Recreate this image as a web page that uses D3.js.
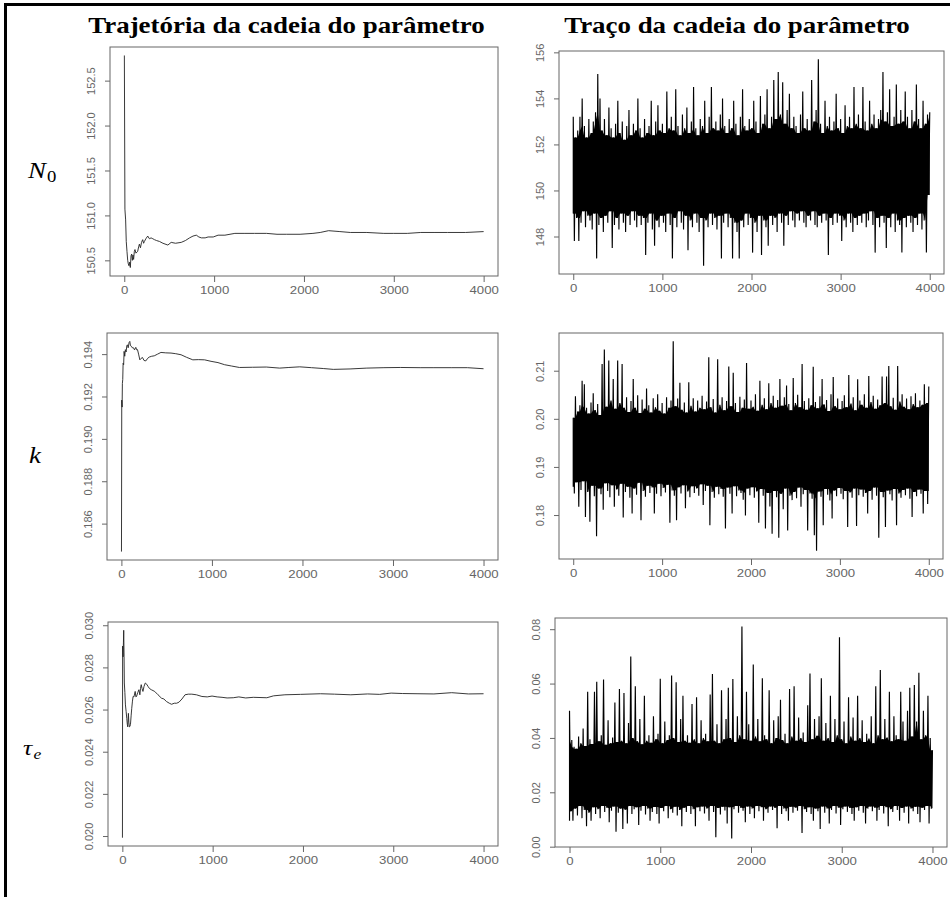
<!DOCTYPE html>
<html>
<head>
<meta charset="utf-8">
<script src="https://cdn.jsdelivr.net/npm/d3@7"></script>
<style>
html, body { margin: 0; padding: 0; background: #fff; }
svg { display: block; }
</style>
</head>
<body>
<svg id="chart" width="950" height="897"></svg>
<script>
// ── Data ──────────────────────────────────────────────────
const xTicks = [0, 1000, 2000, 3000, 4000];
const n0MeanTicks = [150.5, 151.0, 151.5, 152.0, 152.5];
const n0TraceTicks = [148, 150, 152, 154, 156];
const kMeanTicks = [0.186, 0.188, 0.190, 0.192, 0.194];
const kTraceTicks = [0.18, 0.19, 0.20, 0.21];
const tauMeanTicks = [0.020, 0.022, 0.024, 0.026, 0.028, 0.030];
const tauTraceTicks = [0.00, 0.02, 0.04, 0.06, 0.08];

// running mean ("trajetória"): [iteration, value]
const n0Mean = [
    [1,152.78],[7,151.07],[15,150.95],[22,150.71],[30,150.60],[38,150.50],[45,150.46],[52,150.44],
    [60,150.48],[67,150.42],[75,150.55],[82,150.57],[90,150.50],[97,150.56],[104,150.51],[112,150.60],
    [119,150.62],[130,150.58],[149,150.60],[160,150.65],[168,150.68],[180,150.64],[192,150.70],[205,150.73],
    [215,150.69],[224,150.71],[240,150.74],[261,150.77],[280,150.74],[298,150.75],[318,150.74],[336,150.73],
    [360,150.72],[392,150.71],[430,150.69],[485,150.67],[522,150.70],[570,150.69],[634,150.70],[680,150.72],
    [727,150.75],[765,150.77],[802,150.78],[830,150.76],[858,150.75],[900,150.75],[933,150.76],[990,150.76],
    [1044,150.78],[1120,150.78],[1231,150.80],[1343,150.80],[1450,150.80],[1584,150.80],[1700,150.79],
    [1808,150.79],[1957,150.79],[2100,150.80],[2181,150.81],[2274,150.83],[2400,150.82],[2516,150.81],
    [2700,150.81],[2889,150.80],[3000,150.80],[3150,150.80],[3300,150.81],[3448,150.81],[3600,150.81],
    [3800,150.81],[4000,150.82]
];
const kMean = [
    [1,0.18468],[4,0.19183],[8,0.19150],[11,0.19262],[15,0.19280],[19,0.19357],[25,0.19350],[30,0.19413],
    [37,0.19390],[44,0.19421],[52,0.19410],[60,0.19440],[67,0.19444],[75,0.19430],[85,0.19455],[93,0.19460],
    [100,0.19440],[111,0.19437],[120,0.19430],[133,0.19430],[145,0.19420],[159,0.19432],[170,0.19420],
    [178,0.19421],[190,0.19400],[204,0.19373],[218,0.19380],[233,0.19384],[250,0.19370],[270,0.19368],
    [290,0.19380],[307,0.19386],[335,0.19390],[363,0.19392],[400,0.19400],[437,0.19408],[490,0.19406],
    [548,0.19405],[600,0.19402],[659,0.19397],[720,0.19385],[789,0.19373],[850,0.19374],[919,0.19373],
    [990,0.19366],[1067,0.19360],[1140,0.19350],[1215,0.19344],[1304,0.19337],[1450,0.19338],[1600,0.19339],
    [1748,0.19334],[1850,0.19337],[1970,0.19340],[2100,0.19336],[2230,0.19332],[2341,0.19328],[2526,0.19330],
    [2711,0.19334],[2900,0.19336],[3081,0.19337],[3300,0.19336],[3452,0.19336],[3650,0.19336],[3822,0.19336],
    [4000,0.19331]
];
const tauMean = [
    [1,0.01992],[3,0.02901],[8,0.02850],[12,0.02920],[15,0.02976],[19,0.02850],[22,0.02726],[28,0.02680],
    [34,0.02622],[42,0.02590],[49,0.02558],[55,0.02530],[60,0.02518],[67,0.02582],[72,0.02540],[78,0.02518],
    [84,0.02520],[90,0.02530],[97,0.02570],[104,0.02606],[112,0.02640],[119,0.02662],[128,0.02660],
    [142,0.02686],[150,0.02660],[157,0.02662],[170,0.02680],[183,0.02694],[194,0.02670],[201,0.02700],
    [209,0.02718],[218,0.02700],[228,0.02686],[240,0.02710],[254,0.02726],[270,0.02720],[284,0.02710],
    [300,0.02700],[321,0.02694],[340,0.02690],[358,0.02686],[395,0.02670],[433,0.02654],[460,0.02650],
    [489,0.02638],[520,0.02630],[545,0.02625],[575,0.02630],[601,0.02630],[627,0.02635],[660,0.02650],
    [694,0.02670],[730,0.02673],[769,0.02673],[820,0.02670],[881,0.02662],[940,0.02660],[993,0.02664],
    [1050,0.02660],[1104,0.02658],[1160,0.02655],[1228,0.02656],[1290,0.02660],[1366,0.02655],[1450,0.02658],
    [1600,0.02656],[1674,0.02665],[1800,0.02670],[1972,0.02672],[2195,0.02675],[2350,0.02673],[2530,0.02670],
    [2716,0.02674],[2850,0.02672],[2977,0.02678],[3100,0.02676],[3274,0.02675],[3450,0.02674],[3647,0.02680],
    [3833,0.02674],[4000,0.02675]
];

// trace ("traço"): upper and lower spike of the chain, one pair per 25 iterations
const TRACE_STEP = 25;
const n0TraceHi = [
    153.2,152.3,152.6,153.2,154.0,152.8,152.3,153.1,152.5,153.0,
    153.4,155.06,154.0,152.6,153.1,152.4,153.6,152.7,152.3,152.9,
    153.9,152.5,153.0,152.2,152.8,153.5,152.4,152.9,152.6,154.0,
    152.7,152.3,153.1,152.5,152.8,153.9,152.4,153.0,153.7,152.6,
    152.9,152.5,154.3,152.7,153.2,152.6,154.4,152.8,152.4,153.3,
    152.7,153.6,152.5,153.0,154.5,152.7,152.4,153.1,152.8,153.9,
    152.5,153.2,154.5,152.7,153.0,152.6,153.3,154.0,152.8,152.5,
    153.1,152.7,153.9,152.9,152.4,153.2,154.4,152.8,152.6,153.1,
    152.7,153.9,153.0,152.5,154.1,152.9,153.3,154.4,152.7,153.2,
    154.8,153.1,155.15,153.3,154.7,152.9,153.5,154.2,152.7,153.2,
    152.8,152.5,153.3,154.3,152.7,153.1,152.6,154.8,153.0,153.5,
    155.7,152.9,152.5,153.9,152.8,153.2,152.6,153.0,154.2,152.7,
    153.1,152.5,153.7,152.8,153.2,152.7,154.5,152.9,153.3,152.7,
    154.5,153.0,152.6,153.9,152.9,153.3,152.7,153.1,153.5,155.15,
    153.0,153.4,154.4,152.8,153.2,154.6,152.9,153.5,153.0,154.3,
    153.2,152.7,153.5,153.0,154.6,153.1,152.7,153.9,152.9,153.3,
    153.4
];
const n0TraceLo = [
    149.0,147.8,148.8,147.8,148.6,149.1,148.4,148.9,148.7,148.3,
    149.0,147.05,148.5,148.8,148.2,148.9,148.6,149.1,147.5,148.5,
    148.8,148.3,149.0,148.6,148.2,148.9,148.5,149.1,148.7,148.4,
    148.9,148.5,148.8,147.2,148.6,149.0,148.3,147.6,148.7,148.4,
    148.9,148.6,148.2,149.0,148.5,147.05,148.8,148.4,149.1,148.6,
    148.3,148.9,147.4,148.7,148.4,149.0,148.6,148.2,148.8,146.73,
    148.7,148.4,149.0,148.5,148.8,148.3,148.9,147.05,148.6,149.0,
    148.4,148.8,147.05,148.6,148.2,147.05,148.7,148.4,149.0,148.5,
    148.8,147.3,148.6,148.2,148.9,147.2,148.7,148.4,147.6,148.9,
    148.5,148.8,148.2,149.0,148.6,147.6,148.9,148.5,149.1,148.7,
    148.4,149.0,148.7,149.1,148.6,148.4,148.9,148.7,149.1,148.5,
    148.4,148.9,148.6,149.0,148.7,147.2,148.8,148.5,149.0,148.6,
    148.9,147.8,148.7,148.4,149.0,148.6,148.2,148.8,148.5,148.9,
    148.6,149.0,148.4,148.7,149.1,148.5,147.3,148.8,148.4,148.9,
    148.6,147.5,148.8,148.4,149.0,148.2,148.7,148.5,147.3,148.8,
    148.4,148.9,148.6,148.2,148.8,148.5,149.0,148.3,148.7,147.3,
    149.8
];
const kTraceHi = [
    0.2002,0.2047,0.2015,0.2028,0.2079,0.2072,0.2023,0.2011,0.2034,0.2053,
    0.2018,0.2031,0.2008,0.2114,0.2144,0.2025,0.2121,0.2038,0.2083,0.2021,
    0.2121,0.2033,0.2114,0.2023,0.2045,0.2014,0.2037,0.2083,0.2023,0.2049,
    0.2012,0.2040,0.2021,0.2063,0.2028,0.2013,0.2043,0.2024,0.2051,0.2017,
    0.2033,0.2011,0.2045,0.2023,0.2038,0.2161,0.2026,0.2042,0.2075,0.2019,
    0.2034,0.2013,0.2076,0.2027,0.2043,0.2015,0.2038,0.2023,0.2048,0.2020,
    0.2036,0.2128,0.2024,0.2041,0.2013,0.2124,0.2029,0.2045,0.2018,0.2037,
    0.2109,0.2026,0.2096,0.2033,0.2014,0.2046,0.2023,0.2040,0.2116,0.2021,
    0.2038,0.2025,0.2051,0.2017,0.2079,0.2029,0.2043,0.2020,0.2074,0.2033,
    0.2048,0.2023,0.2039,0.2083,0.2027,0.2045,0.2069,0.2031,0.2018,0.2085,
    0.2033,0.2050,0.2024,0.2114,0.2037,0.2019,0.2043,0.2028,0.2108,0.2035,
    0.2022,0.2047,0.2083,0.2030,0.2039,0.2016,0.2051,0.2087,0.2026,0.2042,
    0.2020,0.2037,0.2049,0.2024,0.2091,0.2032,0.2045,0.2018,0.2082,0.2038,
    0.2029,0.2051,0.2023,0.2089,0.2035,0.2048,0.2021,0.2040,0.2028,0.2088,
    0.2033,0.2088,0.2110,0.2026,0.2044,0.2019,0.2110,0.2036,0.2051,0.2025,
    0.2042,0.2020,0.2047,0.2031,0.2053,0.2024,0.2038,0.2029,0.2072,0.2033,
    0.2067
];
const kTraceLo = [
    0.1859,0.1845,0.1868,0.1817,0.1852,0.1870,0.1796,0.1848,0.1786,0.1861,
    0.1839,0.1756,0.1855,0.1843,0.1811,0.1866,0.1850,0.1837,0.1862,0.1817,
    0.1853,0.1840,0.1865,0.1795,0.1848,0.1859,0.1836,0.1803,0.1855,0.1842,
    0.1867,0.1789,0.1850,0.1838,0.1861,0.1846,0.1857,0.1803,0.1844,0.1865,
    0.1839,0.1856,0.1847,0.1863,0.1784,0.1851,0.1840,0.1789,0.1858,0.1845,
    0.1862,0.1814,0.1849,0.1837,0.1860,0.1846,0.1855,0.1840,0.1864,0.1821,
    0.1850,0.1861,0.1779,0.1848,0.1836,0.1859,0.1843,0.1854,0.1838,0.1772,
    0.1857,0.1844,0.1803,0.1860,0.1839,0.1851,0.1846,0.1832,0.1799,0.1855,
    0.1841,0.1858,0.1836,0.1849,0.1784,0.1854,0.1840,0.1772,0.1846,0.1818,
    0.1761,0.1850,0.1837,0.1753,0.1844,0.1812,0.1855,0.1768,0.1840,0.1831,
    0.1848,0.1835,0.1857,0.1817,0.1843,0.1852,0.1768,0.1845,0.1834,0.1758,
    0.1726,0.1849,0.1838,0.1779,0.1854,0.1842,0.1830,0.1793,0.1851,0.1839,
    0.1856,0.1844,0.1833,0.1850,0.1775,0.1847,0.1836,0.1855,0.1777,0.1841,
    0.1853,0.1838,0.1846,0.1803,0.1850,0.1832,0.1857,0.1840,0.1753,0.1848,
    0.1837,0.1775,0.1851,0.1843,0.1830,0.1854,0.1779,0.1845,0.1836,0.1852,
    0.1841,0.1855,0.1834,0.1796,0.1848,0.1839,0.1853,0.1844,0.1803,0.1850,
    0.1823
];
const tauTraceHi = [
    0.0500,0.0392,0.0368,0.0360,0.0405,0.0380,0.0435,0.0370,0.0570,0.0395,
    0.0378,0.0570,0.0607,0.0388,0.0410,0.0615,0.0375,0.0465,0.0380,0.0402,
    0.0530,0.0385,0.0580,0.0390,0.0565,0.0380,0.0455,0.0700,0.0400,0.0590,
    0.0388,0.0470,0.0377,0.0555,0.0390,0.0410,0.0382,0.0480,0.0395,0.0415,
    0.0618,0.0380,0.0460,0.0392,0.0410,0.0630,0.0400,0.0605,0.0385,0.0470,
    0.0555,0.0390,0.0410,0.0382,0.0525,0.0395,0.0550,0.0380,0.0465,0.0400,
    0.0415,0.0388,0.0560,0.0635,0.0390,0.0450,0.0380,0.0575,0.0395,0.0470,
    0.0585,0.0400,0.0617,0.0385,0.0480,0.0410,0.0810,0.0395,0.0570,0.0450,
    0.0390,0.0670,0.0405,0.0470,0.0388,0.0620,0.0410,0.0395,0.0575,0.0380,
    0.0465,0.0400,0.0480,0.0540,0.0392,0.0415,0.0380,0.0580,0.0405,0.0590,
    0.0390,0.0475,0.0400,0.0420,0.0385,0.0520,0.0637,0.0395,0.0470,0.0408,
    0.0480,0.0620,0.0390,0.0455,0.0400,0.0555,0.0385,0.0470,0.0410,0.0770,
    0.0395,0.0460,0.0380,0.0550,0.0405,0.0475,0.0390,0.0555,0.0400,0.0465,
    0.0385,0.0415,0.0398,0.0480,0.0380,0.0590,0.0410,0.0650,0.0395,0.0470,
    0.0402,0.0570,0.0388,0.0480,0.0410,0.0395,0.0570,0.0460,0.0390,0.0500,
    0.0585,0.0405,0.0595,0.0460,0.0640,0.0395,0.0500,0.0410,0.0555,0.0400,
    0.0355
];
const tauTraceLo = [
    0.0095,0.0130,0.0095,0.0140,0.0115,0.0150,0.0105,0.0135,0.0075,0.0125,
    0.0095,0.0145,0.0120,0.0138,0.0105,0.0150,0.0128,0.0142,0.0090,0.0132,
    0.0148,0.0055,0.0125,0.0140,0.0065,0.0135,0.0085,0.0150,0.0120,0.0138,
    0.0145,0.0080,0.0132,0.0150,0.0118,0.0140,0.0095,0.0128,0.0146,0.0120,
    0.0085,0.0142,0.0130,0.0150,0.0105,0.0138,0.0125,0.0147,0.0115,0.0135,
    0.0075,0.0143,0.0128,0.0150,0.0120,0.0138,0.0075,0.0145,0.0130,0.0148,
    0.0122,0.0140,0.0095,0.0150,0.0128,0.0035,0.0142,0.0118,0.0147,0.0133,
    0.0085,0.0145,0.0030,0.0138,0.0150,0.0125,0.0142,0.0132,0.0090,0.0148,
    0.0120,0.0140,0.0105,0.0150,0.0130,0.0145,0.0095,0.0138,0.0125,0.0148,
    0.0135,0.0142,0.0068,0.0150,0.0120,0.0140,0.0130,0.0095,0.0147,0.0125,
    0.0143,0.0132,0.0150,0.0050,0.0138,0.0128,0.0145,0.0120,0.0095,0.0140,
    0.0130,0.0065,0.0148,0.0125,0.0140,0.0085,0.0135,0.0150,0.0122,0.0143,
    0.0080,0.0138,0.0148,0.0128,0.0142,0.0120,0.0095,0.0145,0.0132,0.0150,
    0.0125,0.0085,0.0140,0.0148,0.0130,0.0143,0.0095,0.0135,0.0150,0.0122,
    0.0145,0.0075,0.0138,0.0128,0.0150,0.0135,0.0095,0.0142,0.0125,0.0148,
    0.0085,0.0140,0.0130,0.0147,0.0120,0.0090,0.0143,0.0135,0.0150,0.0085,
    0.0140
];

// ── Drawing ───────────────────────────────────────────────
const svg = d3.select('#chart');
const TICK_FONT = '"Liberation Sans", Arial, sans-serif';
const SERIF = '"Liberation Serif", "Times New Roman", serif';
const GREY = '#666';

// R-style range: data extent widened by 4% on each side
function padded(values) {
    const ext = d3.extent(values);
    const p = (ext[1] - ext[0]) * 0.04;
    return [ext[0] - p, ext[1] + p];
}

// interleave upper/lower spikes into one chain path
function tracePoints(hi, lo) {
    const pts = [];
    hi.forEach(function(h, k) {
        pts.push([Math.max(0, k * TRACE_STEP - TRACE_STEP / 2), lo[k]]);
        pts.push([k * TRACE_STEP, h]);
    });
    return pts;
}

// the part every neighbouring pair of swings crosses: drawn solid, as the dense chain is
function coreBand(hi, lo) {
    return hi.map(function(h, k) {
        const a = Math.max(0, k - 1), b = Math.min(hi.length - 1, k + 1);
        return {
            it: k * TRACE_STEP,
            top: Math.min(hi[a], h, hi[b]),
            bot: Math.max(lo[a], lo[k], lo[b])
        };
    });
}

function panel(box, pts, yTicks, yFmt, strokeW, col, band) {
    const g = svg.append('g');
    const x = d3.scaleLinear().domain(padded(pts.map(d => d[0]))).range([box.l, box.r]);
    const y = d3.scaleLinear().domain(padded(pts.map(d => d[1]))).range([box.b, box.t]);

    const xa = g.append('g')
        .attr('transform', 'translate(0,' + box.b + ')')
        .call(d3.axisBottom(x).tickValues(xTicks).tickFormat(d3.format('d')).tickSize(6).tickSizeOuter(0));
    xa.select('.domain').remove();
    xa.selectAll('line').attr('stroke', GREY);
    xa.selectAll('text')
        .attr('y', 18.5).attr('dy', null)
        .attr('transform', 'scale(1.2,1)')
        .attr('fill', GREY)
        .style('font', '11px ' + TICK_FONT);

    const ya = g.append('g')
        .attr('transform', 'translate(' + box.l + ',0)')
        .call(d3.axisLeft(y).tickValues(yTicks).tickFormat(yFmt).tickSize(5).tickSizeOuter(0));
    ya.select('.domain').remove();
    ya.selectAll('line').attr('stroke', GREY);
    ya.selectAll('text')
        .attr('transform', 'rotate(-90)')
        .attr('x', 0).attr('y', -15).attr('dy', null)
        .attr('text-anchor', 'middle')
        .attr('fill', GREY)
        .style('font', '11px ' + TICK_FONT);

    g.append('rect')
        .attr('x', box.l).attr('y', box.t)
        .attr('width', box.r - box.l).attr('height', box.b - box.t)
        .attr('fill', 'none').attr('stroke', GREY).attr('stroke-width', 1);

    if (band) {
        g.append('path').datum(band)
            .attr('d', d3.area().x(d => x(d.it)).y0(d => y(d.bot)).y1(d => y(d.top)))
            .attr('fill', col);
    }

    g.append('path').datum(pts)
        .attr('d', d3.line().x(d => x(d[0])).y(d => y(d[1])))
        .attr('fill', 'none')
        .attr('stroke', col)
        .attr('stroke-width', strokeW)
        .attr('stroke-linejoin', 'bevel');
}

// outer frame (open at right and bottom)
svg.append('path').attr('d', 'M4,4.5H950').attr('stroke', '#000').attr('stroke-width', 3);
svg.append('path').attr('d', 'M5.5,3V897').attr('stroke', '#000').attr('stroke-width', 3);

// column titles
function title(cx, txt) {
    svg.append('text')
        .attr('transform', 'translate(' + cx + ',33) scale(1.17,1)')
        .attr('text-anchor', 'middle')
        .style('font', 'bold 23px ' + SERIF)
        .attr('fill', '#000')
        .text(txt);
}
title(286.5, 'Trajetória da cadeia do parâmetro');
title(737, 'Traço da cadeia do parâmetro');

// row labels
const n0Lab = svg.append('text')
    .attr('transform', 'translate(28,178) scale(1.17,1)')
    .style('font', 'italic 23px ' + SERIF);
n0Lab.append('tspan').text('N');
n0Lab.append('tspan').attr('dy', 4).attr('dx', 1).style('font', '16px ' + SERIF).text('0');

svg.append('text')
    .attr('transform', 'translate(29,463) scale(1.17,1)')
    .style('font', 'italic 23px ' + SERIF)
    .text('k');

const tauLab = svg.append('text')
    .attr('transform', 'translate(23,755) scale(1.17,1)')
    .style('font', 'italic 22px ' + SERIF);
tauLab.append('tspan').text('τ');
tauLab.append('tspan').attr('dy', 4).attr('dx', 1).style('font', 'italic 15px ' + SERIF).text('e');

// six panels
panel({ l: 110, r: 498, t: 47, b: 276 }, n0Mean, n0MeanTicks, d3.format('.1f'), 0.9, '#222');
panel({ l: 559, r: 944, t: 51, b: 274 }, tracePoints(n0TraceHi, n0TraceLo), n0TraceTicks, d3.format('d'), 1.15, '#000',
    coreBand(n0TraceHi, n0TraceLo));
panel({ l: 107, r: 498, t: 333, b: 560 }, kMean, kMeanTicks, d3.format('.3f'), 0.9, '#222');
panel({ l: 559, r: 943, t: 333, b: 559 }, tracePoints(kTraceHi, kTraceLo), kTraceTicks, d3.format('.2f'), 1.15, '#000',
    coreBand(kTraceHi, kTraceLo));
panel({ l: 108, r: 498, t: 622, b: 846 }, tauMean, tauMeanTicks, d3.format('.3f'), 0.9, '#222');
panel({ l: 555, r: 947, t: 618, b: 847 }, tracePoints(tauTraceHi, tauTraceLo), tauTraceTicks, d3.format('.2f'), 1.15, '#000',
    coreBand(tauTraceHi, tauTraceLo));
</script>
</body>
</html>
